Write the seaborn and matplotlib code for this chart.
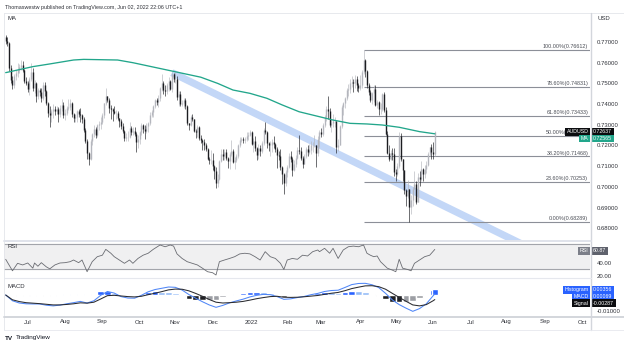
import numpy as np
import pandas as pd
import matplotlib
matplotlib.use("Agg")
import matplotlib.pyplot as plt
import matplotlib.transforms as mtransforms
from matplotlib.lines import Line2D
import seaborn as sns

# SECTION - DATA
# AUDUSD daily bars, first bar Jun 14 2021, one value per weekday
first_day = "2021-06-14"
first_open = 0.7725
close = [
    .7705, .7695, .7575, .7515, .7490, .7535, .7550, .7565, .7580, .7590, .7565, .7510, .7500,  # Jun
    .7475, .7520, .7555, .7480, .7500, .7440, .7470, .7460, .7430, .7490, .7465, .7405, .7355, .7345,
    .7365, .7375, .7365, .7375, .7350, .7380, .7395, .7345,  # Jul
    .7355, .7380, .7385, .7405, .7350, .7335, .7340, .7365, .7350, .7345, .7330, .7275, .7220, .7165,
    .7135, .7220, .7255, .7280, .7250, .7300, .7305, .7315,  # Aug
    .7345, .7405, .7440, .7420, .7380, .7375, .7365, .7355, .7355, .7335, .7320, .7295, .7270, .7235,
    .7240, .7240, .7285, .7265, .7270, .7255, .7215, .7230,  # Sep
    .7265, .7300, .7280, .7270, .7295, .7310, .7345, .7360, .7390, .7420, .7410, .7430, .7480, .7500,
    .7470, .7465, .7490, .7510, .7475, .7545, .7520,  # Oct
    .7520, .7435, .7450, .7400, .7405, .7420, .7390, .7310, .7300, .7340, .7330, .7270, .7265, .7290,
    .7235, .7225, .7215, .7200, .7185, .7135, .7130, .7130,  # Nov
    .7100, .7075, .7020, .7040, .7125, .7160, .7150, .7170, .7140, .7125, .7160, .7175, .7120, .7130,
    .7150, .7200, .7225, .7230, .7225, .7230, .7245, .7250, .7265,  # Dec
    .7205, .7220, .7190, .7155, .7190, .7175, .7210, .7275, .7265, .7210, .7200, .7200, .7215, .7205,
    .7185, .7155, .7150, .7095, .7060, .7020, .7070,  # Jan
    .7095, .7150, .7135, .7080, .7110, .7140, .7180, .7175, .7140, .7110, .7150, .7185, .7170, .7180,
    .7200, .7200, .7200, .7165, .7230, .7265,  # Feb
    .7255, .7300, .7340, .7375, .7365, .7300, .7310, .7320, .7320, .7195, .7200, .7295, .7385, .7405,
    .7430, .7470, .7475, .7500, .7505, .7500, .7520, .7490, .7480,  # Mar
    .7490, .7555, .7615, .7560, .7490, .7460, .7420, .7455, .7475, .7395, .7410, .7375, .7375, .7450,
    .7370, .7255, .7165, .7135, .7165, .7160, .7070,  # Apr
    .7060, .7100, .7245, .7135, .7080, .6985, .6955, .6990, .6905, .6935, .6990, .7015, .6925, .7050,
    .7040, .7085, .7060, .7085, .7105, .7160, .7195, .7170,  # May
    .7160, .72637,  # Jun
]
high = [
    .7735, .7725, .7700, .7590, .7535, .7545, .7565, .7600, .7595, .7615, .7610, .7570, .7530,
    .7510, .7530, .7600, .7575, .7515, .7505, .7480, .7480, .7480, .7505, .7505, .7470, .7410, .7390,
    .7375, .7400, .7390, .7390, .7385, .7395, .7425, .7410,
    .7375, .7390, .7425, .7425, .7410, .7355, .7350, .7370, .7375, .7380, .7350, .7340, .7285, .7230,
    .7170, .7230, .7260, .7300, .7290, .7305, .7320, .7340,
    .7355, .7405, .7478, .7440, .7430, .7395, .7380, .7390, .7370, .7365, .7335, .7330, .7310, .7275,
    .7260, .7270, .7315, .7295, .7290, .7290, .7265, .7250,
    .7270, .7310, .7305, .7300, .7310, .7315, .7360, .7370, .7395, .7425, .7430, .7445, .7485, .7545,
    .7510, .7490, .7500, .7530, .7515, .7556, .7550,
    .7555, .7535, .7465, .7465, .7420, .7430, .7430, .7395, .7310, .7345, .7350, .7330, .7280, .7300,
    .7295, .7250, .7230, .7230, .7210, .7190, .7145, .7180,
    .7165, .7105, .7095, .7060, .7130, .7185, .7185, .7185, .7185, .7145, .7170, .7225, .7185, .7145,
    .7160, .7205, .7240, .7240, .7240, .7240, .7265, .7265, .7275,
    .7270, .7235, .7245, .7195, .7205, .7200, .7220, .7285, .7315, .7270, .7215, .7220, .7230, .7245,
    .7210, .7195, .7175, .7185, .7100, .7065, .7080,
    .7105, .7165, .7175, .7145, .7130, .7155, .7195, .7250, .7195, .7150, .7160, .7195, .7200, .7205,
    .7220, .7215, .7250, .7200, .7245, .7275,
    .7285, .7310, .7345, .7390, .7440, .7380, .7330, .7350, .7340, .7320, .7230, .7300, .7395, .7410,
    .7435, .7480, .7495, .7520, .7535, .7520, .7540, .7535, .7500,
    .7540, .7565, .7661, .7620, .7565, .7500, .7470, .7460, .7490, .7490, .7420, .7415, .7405, .7455,
    .7460, .7385, .7270, .7200, .7180, .7190, .7190,
    .7085, .7115, .7265, .7260, .7105, .7080, .6990, .7035, .6990, .6960, .7000, .7075, .7030, .7065,
    .7075, .7125, .7090, .7105, .7125, .7170, .7195, .7205,
    .7215, .7270,
]
low = [
    .7690, .7680, .7560, .7500, .7475, .7480, .7515, .7530, .7550, .7565, .7555, .7500, .7490,
    .7460, .7445, .7510, .7465, .7455, .7410, .7425, .7440, .7410, .7420, .7440, .7395, .7340, .7290,
    .7315, .7335, .7345, .7350, .7315, .7340, .7365, .7335,
    .7325, .7345, .7370, .7370, .7340, .7315, .7315, .7315, .7340, .7315, .7310, .7265, .7210, .7135,
    .7105, .7130, .7200, .7240, .7235, .7240, .7275, .7280,
    .7305, .7335, .7395, .7410, .7355, .7330, .7320, .7350, .7330, .7325, .7290, .7280, .7260, .7220,
    .7220, .7220, .7235, .7250, .7250, .7245, .7170, .7190,
    .7205, .7250, .7260, .7230, .7260, .7265, .7300, .7340, .7340, .7380, .7395, .7385, .7415, .7465,
    .7450, .7440, .7450, .7465, .7470, .7460, .7505,
    .7500, .7420, .7390, .7390, .7390, .7380, .7375, .7300, .7275, .7295, .7320, .7265, .7235, .7240,
    .7225, .7210, .7180, .7180, .7175, .7130, .7110, .7110,
    .7080, .7040, .6995, .7000, .7035, .7120, .7130, .7130, .7130, .7090, .7085, .7150, .7115, .7085,
    .7120, .7140, .7195, .7215, .7210, .7210, .7220, .7225, .7245,
    .7200, .7170, .7175, .7130, .7135, .7150, .7165, .7200, .7255, .7190, .7175, .7150, .7170, .7190,
    .7170, .7090, .7130, .7080, .7015, .6968, .7005,
    .7050, .7090, .7120, .7055, .7075, .7095, .7135, .7160, .7130, .7090, .7110, .7140, .7150, .7160,
    .7160, .7170, .7195, .7095, .7150, .7195,
    .7240, .7245, .7290, .7320, .7330, .7290, .7265, .7290, .7290, .7165, .7175, .7200, .7285, .7345,
    .7380, .7420, .7440, .7455, .7485, .7460, .7480, .7465, .7460,
    .7470, .7480, .7545, .7530, .7480, .7445, .7410, .7400, .7410, .7390, .7380, .7345, .7350, .7365,
    .7360, .7250, .7160, .7125, .7130, .7130, .7055,
    .7030, .7055, .7090, .7125, .7030, .6965, .6910, .6945, .6829, .6870, .6910, .6990, .6915, .6925,
    .7005, .7030, .7030, .7045, .7065, .7100, .7150, .7135,
    .7135, .7150,
]

# 200-day moving average, read at a few dates
ma_dates = ["2021-06-14", "2021-07-06", "2021-07-20", "2021-08-09", "2021-08-17", "2021-09-14",
            "2021-09-27", "2021-10-25", "2021-11-22", "2021-12-06", "2021-12-17", "2021-12-31",
            "2022-01-14", "2022-01-27", "2022-02-10", "2022-02-24", "2022-03-10", "2022-03-24",
            "2022-04-07", "2022-04-20", "2022-05-04", "2022-05-20", "2022-06-02"]
ma_vals = [0.7552, 0.7581, 0.7594, 0.7613, 0.7616, 0.7613, 0.7600, 0.7565, 0.7530, 0.7500, 0.7468,
           0.7452, 0.7428, 0.7396, 0.7363, 0.7343, 0.7323, 0.7307, 0.7304, 0.7299, 0.7288, 0.7267,
           0.72565]

# descending trendline anchors
trend_dates = ["2021-10-28", "2022-05-12"]
trend_vals = [0.7552, 0.6990]

# fibonacci retracement
fib_start = "2022-04-05"
fib_hi, fib_lo = 0.76612, 0.68289
fib_ratios = [1.0, 0.786, 0.618, 0.5, 0.382, 0.236, 0.0]

# RSI, trading-day number from first bar
rsi_bar = [0, 4, 7, 10, 13, 16, 17, 19, 21, 24, 26, 29, 32, 35, 38, 40, 43, 45, 48, 51,
           54, 57, 59, 62, 64, 67, 70, 73, 75, 78, 81, 84, 87, 90, 91, 94, 97, 99, 101, 104,
           107, 110, 113, 116, 119, 122, 124, 126, 129, 132, 135, 138, 141, 144, 147, 150, 153, 156, 159, 162,
           164, 166, 169, 172, 175, 178, 181, 184, 185, 188, 191, 193, 196, 199, 202, 205, 208, 211, 213, 215,
           217, 219, 221, 222, 225, 228, 230, 232, 234, 237, 239, 241, 244, 247, 250, 253]
rsi_val = [45.7, 28, 39.5, 37, 40, 32, 40, 35, 40.5, 34, 31, 37, 40, 40.5, 42, 44.6, 40.5, 44.6, 26.6, 42,
           49.7, 52, 61, 55, 49.7, 44.6, 39.5, 44.6, 39.5, 47, 52, 55, 61, 66, 67.7, 65, 67.7, 66, 54, 47,
           42, 39.5, 37, 32, 26.6, 25, 21.5, 42, 44.6, 47, 49.7, 54, 55, 54, 49.7, 44.6, 57.4, 49.7, 47, 39.5,
           30, 44.6, 47, 45.7, 52, 50.8, 57.4, 60, 57.4, 62.6, 55, 62.6, 47, 60, 65, 66, 65, 67.7, 55, 52,
           49.7, 50.8, 42, 39.5, 32, 29, 26.6, 45.7, 32, 30, 28, 39.5, 44.6, 49.7, 52, 60.87]

# MACD and signal, every 4th trading day plus the last one
macd_bar = list(range(0, 253, 4)) + [253]
macd_val = [0.0, -0.0036, -0.0050, -0.0055, -0.0056, -0.0056, -0.0064, -0.0068, -0.0063, -0.0055,
            -0.0048, -0.0040, -0.0050, -0.0036, -0.0002, 0.0022, 0.0012, -0.0010, -0.0019, -0.0020,
            -0.0002, 0.0020, 0.0034, 0.0042, 0.0050, 0.0048, 0.0031, 0.0003, -0.0020, -0.0042,
            -0.0062, -0.0077, -0.0065, -0.0049, -0.0037, -0.0026, -0.0012, -0.0002, 0.0004, 0.0002,
            -0.0010, -0.0027, -0.0024, -0.0016, -0.0009, 0.0002, 0.0010, 0.0022, 0.0028, 0.0030,
            0.0047, 0.0065, 0.0072, 0.0073, 0.0064, 0.0046, 0.0010, -0.0031, -0.0060, -0.0082,
            -0.0102, -0.0085, -0.0055, -0.0005, 0.00069]
signal_val = [0.0, -0.0030, -0.0041, -0.0048, -0.0051, -0.0054, -0.0058, -0.0062, -0.0062, -0.0059,
              -0.0055, -0.0049, -0.0051, -0.0045, -0.0025, -0.0004, -0.0002, -0.0006, -0.0010, -0.0012,
              -0.0008, 0.0002, 0.0011, 0.0021, 0.0032, 0.0037, 0.0036, 0.0026, 0.0010, -0.0008,
              -0.0028, -0.0045, -0.0050, -0.0048, -0.0045, -0.0040, -0.0032, -0.0023, -0.0016, -0.0010,
              -0.0008, -0.0014, -0.0015, -0.0014, -0.0011, -0.0007, -0.0003, 0.0004, 0.0011, 0.0016,
              0.0027, 0.0040, 0.0049, 0.0057, 0.0058, 0.0052, 0.0036, 0.0010, -0.0015, -0.0039,
              -0.0062, -0.0068, -0.0060, -0.0036, -0.00287]

price_ticks = [0.68, 0.69, 0.70, 0.71, 0.72, 0.73, 0.74, 0.75, 0.76, 0.77]
rsi_ticks = [20, 40]
macd_ticks = [-0.01]
axis_end_day = "2022-10-31"
# !SECTION

# SECTION - STYLE
sns.set_theme(style="white")
plt.rcParams["font.family"] = ["Liberation Sans", "DejaVu Sans"]
TXT = "#2f3138"
UP, DOWN = "#b4b6bd", "#1c1d21"
MA_COL = "#22a68b"
FS = 4.3

W_PX, H_PX = 624, 345


def fx(px):
    return px / W_PX


def fy(py):
    return 1 - py / H_PX


fig = plt.figure(figsize=(W_PX / 100, H_PX / 100), dpi=100)
left, right = 4, 590
ax_p = fig.add_axes([fx(left), fy(241), fx(right - left), (241 - 13) / H_PX])
ax_r = fig.add_axes([fx(left), fy(278), fx(right - left), (278 - 241) / H_PX], sharex=ax_p)
ax_m = fig.add_axes([fx(left), fy(317), fx(right - left), (317 - 278) / H_PX], sharex=ax_p)
for ax in (ax_p, ax_r, ax_m):
    ax.set_facecolor("white")
    for s in ax.spines.values():
        s.set_visible(False)
    ax.yaxis.tick_right()
    ax.tick_params(axis="y", length=0, pad=5, labelsize=FS, labelcolor=TXT)
    ax.tick_params(axis="x", length=0)
# !SECTION

# SECTION - PRICE PANE
n = min(len(close), len(high), len(low))
c = np.array(close[:n])
o = np.r_[first_open, c[:-1]]
h = np.maximum(np.array(high[:n]), np.maximum(o, c))
lo = np.minimum(np.array(low[:n]), np.minimum(o, c))
bars = np.arange(n)
all_days = pd.bdate_range(first_day, axis_end_day)
day_index = pd.Series(np.arange(len(all_days)), index=all_days)

up = c >= o
for mask, col in ((up, UP), (~up, DOWN)):
    ax_p.vlines(bars[mask], lo[mask], h[mask], color=col, lw=0.45, zorder=3)
    ax_p.vlines(bars[mask], np.minimum(o, c)[mask], np.maximum(o, c)[mask], color=col, lw=1.0, zorder=3)

# trendline band
tb = day_index[pd.to_datetime(trend_dates)].values
slope = (trend_vals[1] - trend_vals[0]) / (tb[1] - tb[0])
t_end = 360
ax_p.plot([tb[0], t_end], [trend_vals[0], trend_vals[0] + slope * (t_end - tb[0])],
          color="#c3d7f7", lw=5.2, solid_capstyle="butt", zorder=1)

# moving average
ma_bar = day_index[pd.to_datetime(ma_dates)].values
sns.lineplot(x=ma_bar, y=ma_vals, ax=ax_p, color=MA_COL, lw=0.95, sort=False, zorder=4)

x_lo, x_hi = -1, 344.5
ax_p.set_xlim(x_lo, x_hi)
ax_p.set_ylim(0.67386, 0.78401)

# fibonacci levels
fs_bar = day_index[pd.Timestamp(fib_start)]
tr_p = mtransforms.blended_transform_factory(ax_p.transAxes, ax_p.transData)
for r in fib_ratios:
    lvl = fib_lo + r * (fib_hi - fib_lo)
    ax_p.hlines(lvl, fs_bar, x_hi, color="#8c8f98", lw=0.8, zorder=2)
    ax_p.annotate(f"{r * 100:.2f}%({lvl:.5f})", xy=(0.997, lvl), xycoords=tr_p,
                  xytext=(0, 0.6), textcoords="offset points", ha="right", va="bottom",
                  fontsize=3.9, color="#4a4d55", zorder=5)

ax_p.set_yticks(price_ticks)
ax_p.set_yticklabels([f"{v:.5f}" for v in price_ticks])
ax_p.tick_params(axis="x", labelbottom=False)
ax_p.set_xlabel("")
ax_p.set_ylabel("")
# !SECTION

# SECTION - RSI PANE
ax_r.axhspan(30, 70, color="#f0f0f1", zorder=0)
ax_r.axhline(70, color="#a3a5ab", lw=0.8, zorder=1)
ax_r.axhline(30, color="#a3a5ab", lw=0.8, zorder=1)
sns.lineplot(x=rsi_bar, y=rsi_val, ax=ax_r, color="#6a6c72", lw=0.6, sort=False, zorder=3)
ax_r.set_ylim(16.9, 73.85)
ax_r.set_yticks(rsi_ticks)
ax_r.set_yticklabels([f"{v:.2f}" for v in rsi_ticks])
ax_r.tick_params(axis="x", labelbottom=False)
ax_r.set_xlabel("")
ax_r.set_ylabel("")
# !SECTION

# SECTION - MACD PANE
mv = np.array(macd_val)
sv = np.array(signal_val)
hist = mv - sv
prev = np.r_[hist[0], hist[:-1]]
hcol = np.where(hist >= 0, np.where(hist >= prev, "#2962ff", "#93bbf7"),
                np.where(hist < prev, "#1f2024", "#9c9ea4"))
ax_m.bar(macd_bar, hist, width=3.9, color=hcol, zorder=2)
sns.lineplot(x=macd_bar, y=macd_val, ax=ax_m, color="#4f86f7", lw=0.75, sort=False, zorder=3)
sns.lineplot(x=macd_bar, y=signal_val, ax=ax_m, color="#2a2b30", lw=0.75, sort=False, zorder=3)
ax_m.set_ylim(-0.01375, 0.010625)
ax_m.set_yticks(macd_ticks)
ax_m.set_yticklabels([f"{v:.5f}" for v in macd_ticks])

# month ticks
ds = pd.Series(all_days)
first_of_month = np.where(ds.dt.month != ds.dt.month.shift())[0][1:]
first_of_month = first_of_month[first_of_month < x_hi]
mlabels = [all_days[i].strftime("%Y") if all_days[i].month == 1 else all_days[i].strftime("%b")
           for i in first_of_month]
ax_m.set_xticks(first_of_month)
ax_m.set_xticklabels(mlabels)
ax_m.tick_params(axis="x", labelsize=FS, labelcolor=TXT, pad=1.8)
ax_m.set_xlim(x_lo, x_hi)
ax_m.set_xlabel("")
ax_m.set_ylabel("")
# !SECTION

# SECTION - TAGS
def tag(ax, y, name, value, fc_name, fc_val, dy=0.0):
    tr = mtransforms.blended_transform_factory(ax.transAxes, ax.transData)
    box = dict(boxstyle="square,pad=0.28", ec="none")
    ax.annotate(value, xy=(1.0, y), xycoords=tr, xytext=(2.3, dy), textcoords="offset points",
                ha="left", va="center", fontsize=3.8, color="white",
                bbox=dict(box, fc=fc_val), annotation_clip=False, zorder=10)
    ax.annotate(name, xy=(1.0, y), xycoords=tr, xytext=(-1.0, dy), textcoords="offset points",
                ha="right", va="center", fontsize=3.8, color="white",
                bbox=dict(box, fc=fc_name), annotation_clip=False, zorder=10)


tag(ax_p, c[-1], "AUDUSD", f"{c[-1]:.5f}", "#0c0d10", "#0c0d10", dy=0.5)
tag(ax_p, ma_vals[-1], "MA", f"{ma_vals[-1]:.5f}", MA_COL, MA_COL, dy=-3.4)
tag(ax_r, rsi_val[-1], "RSI", f"{rsi_val[-1]:.2f}", "#7c7f89", "#5f626d", dy=-1.1)
tag(ax_m, hist[-1], "Histogram", f"{hist[-1]:.5f}", "#2962ff", "#2962ff", dy=-0.4)
tag(ax_m, mv[-1], "MACD", f"{mv[-1]:.5f}", "#2962ff", "#2962ff", dy=-2.2)
tag(ax_m, sv[-1], "Signal", f"{sv[-1]:.5f}", "#0c0d10", "#0c0d10", dy=-2.7)
# !SECTION

# SECTION - FRAME AND TEXT
def fline(x0, y0, x1, y1, col, lw):
    fig.add_artist(Line2D([fx(x0), fx(x1)], [fy(y0), fy(y1)], color=col, lw=lw,
                          transform=fig.transFigure))


fline(4, 13, 624, 13, "#e3e5ea", 0.6)
fline(4, 13, 4, 330, "#e3e5ea", 0.6)
fline(591, 13, 591, 330, "#d3d6dc", 1.0)
fline(4, 241, 591, 241, "#e0e3eb", 1.4)
fline(4, 278, 591, 278, "#e6e8ee", 0.8)
fline(4, 317, 624, 317, "#d3d6dc", 1.4)
fline(4, 330, 624, 330, "#e6e8ee", 0.6)

fig.text(fx(5), fy(7), "Thomaswestw published on TradingView.com, Jun 02, 2022 22:06 UTC+1",
         fontsize=3.9, color=TXT, va="center", ha="left")
fig.text(fx(8), fy(19), "MA", fontsize=FS, color=TXT, va="center", ha="left")
fig.text(fx(8), fy(247), "RSI", fontsize=FS, color=TXT, va="center", ha="left")
fig.text(fx(8), fy(287), "MACD", fontsize=FS, color=TXT, va="center", ha="left")
fig.text(fx(597), fy(18), "USD", fontsize=FS, color=TXT, va="center", ha="left")
fig.text(fx(5), fy(338), "TV", fontsize=4.6, color="#131722", va="center", ha="left", weight="bold")
fig.text(fx(16), fy(338), "TradingView", fontsize=4.6, color="#131722", va="center", ha="left")

plt.savefig("out.png", dpi=100, facecolor="white")
# !SECTION
